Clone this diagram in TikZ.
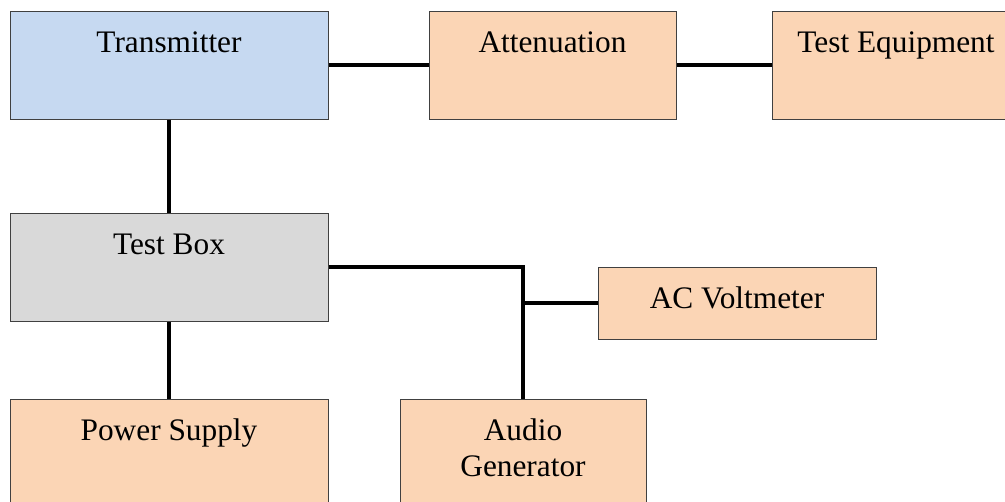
\documentclass[tikz,border=0pt]{standalone}
\usepackage{fontspec}
\setmainfont{Liberation Serif}
\usepackage{xcolor}

\begin{document}
\begin{tikzpicture}[x=0.75pt,y=0.75pt,yscale=-1,xscale=1,
	block/.style={draw={rgb, 255:red, 64; green, 64; blue, 64}, line width=0.75pt, inner xsep=0pt, inner ysep=0pt, text height=30.75pt, font=\fontsize{23.5}{27}\selectfont},
	tall/.style={text depth=50.25pt},
	blueblock/.style={block, tall, fill={rgb, 255:red, 198; green, 217; blue, 241}},
	greyblock/.style={block, tall, fill={rgb, 255:red, 217; green, 217; blue, 217}},
	orangeblock/.style={block, fill={rgb, 255:red, 251; green, 213; blue, 181}},
	wire/.style={line width=3.4pt, color=black}]
	\useasboundingbox (0,0) rectangle (1005,501);

	%Shape: Rectangle [id:transmitter] 
	\node [blueblock, minimum width=238.5pt] (trans) at (169,65) {Transmitter};
	%Shape: Rectangle [id:attenuation] 
	\node [orangeblock, tall, minimum width=185.25pt] (atten) at (552.5,65) {Attenuation};
	%Shape: Rectangle [id:testequipment] 
	\node [orangeblock, tall, minimum width=186pt] (testeq) at (896,65) {Test Equipment};
	%Shape: Rectangle [id:testbox] 
	\node [greyblock, minimum width=238.5pt] (testbox) at (169,267) {Test Box};
	%Shape: Rectangle [id:acvoltmeter] 
	\node [orangeblock, text depth=23.25pt, minimum width=208.5pt] (acvolt) at (737,303) {AC Voltmeter};
	%Shape: Rectangle [id:powersupply] 
	\node [orangeblock, tall, minimum width=238.5pt] (power) at (169,453) {Power Supply};
	%Shape: Rectangle [id:audiogenerator] 
	\node [orangeblock, align=center, text height=57.75pt, text depth=23.25pt, minimum width=184.5pt] (audio) at (523,453) {Audio\\Generator};

	%Straight Lines 
	\draw [wire] (trans.east) -- (atten.west) ;
	\draw [wire] (atten.east) -- (testeq.west) ;
	\draw [wire] (trans.south) -- (testbox.north) ;
	\draw [wire] (testbox.south) -- (power.north) ;
	%Elbow Lines 
	\draw [wire] (testbox.east) -| (audio.north) ;
	\draw [wire] (acvolt.west) -- (acvolt.west -| audio.north) ;

\end{tikzpicture}
\end{document}
